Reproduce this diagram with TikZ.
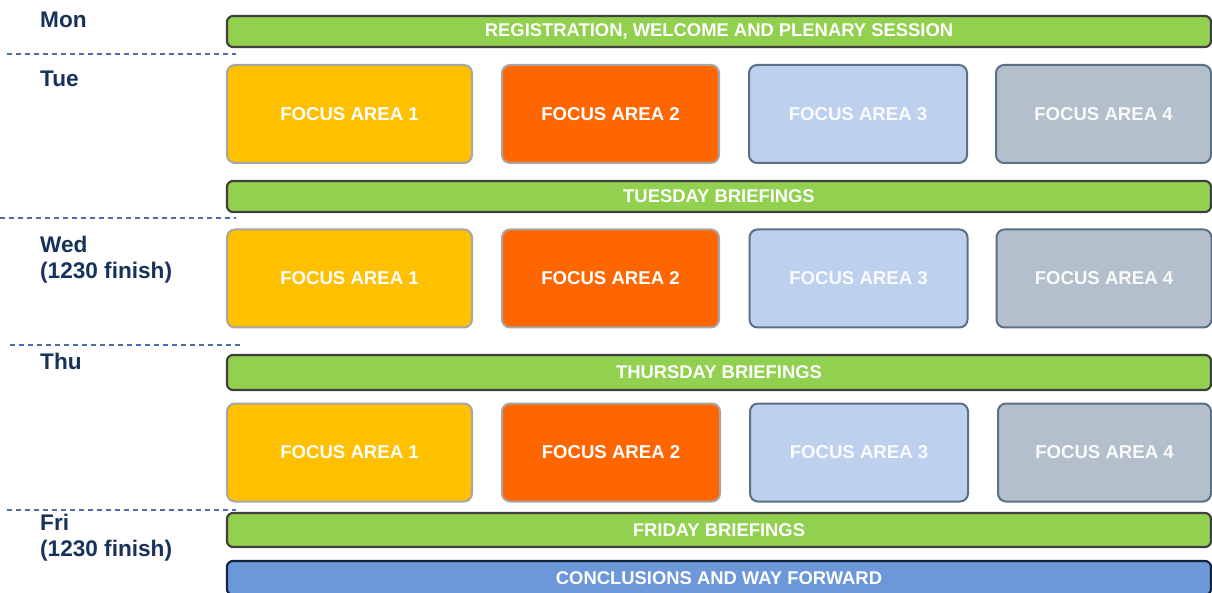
\documentclass[tikz,border=0pt]{standalone}
\usepackage{fontspec}
\setmainfont{Liberation Sans}
\usepackage{tikz}

\definecolor{daytext}{HTML}{17325A}
\definecolor{sepline}{HTML}{4A6DAE}
\definecolor{barfill}{HTML}{92D050}
\definecolor{barline}{HTML}{3F3F3F}
\definecolor{fafill}{HTML}{FFC000}
\definecolor{fbfill}{HTML}{FF6600}
\definecolor{fcfill}{HTML}{BDD0EE}
\definecolor{fdfill}{HTML}{B3BFCA}
\definecolor{warmline}{HTML}{A6A6A6}
\definecolor{coolline}{HTML}{5B7086}
\definecolor{endfill}{HTML}{6C98DA}
\definecolor{endline}{HTML}{13233A}

\begin{document}
\begin{tikzpicture}[
  x=1pt, y=-1pt,
  day/.style={anchor=base west, align=left, inner sep=0pt, text=daytext, font=\fontsize{22.6}{26}\selectfont\bfseries},
  sep/.style={draw=sepline, dashed, dash pattern=on 5pt off 4pt, line width=1.3pt},
  bar/.style={draw=barline, fill=barfill, line width=2.2pt, rounded corners=6pt, minimum width=984pt, text=white, font=\fontsize{18.4}{20}\selectfont\bfseries, inner sep=0pt},
  area/.style={rounded corners=8pt, line width=2pt, minimum height=98pt, text=white, font=\fontsize{18.6}{20}\selectfont\bfseries, inner sep=0pt},
  fa/.style={area, draw=warmline, fill=fafill, minimum width=245pt},
  fb/.style={area, draw=warmline, fill=fbfill, minimum width=217pt},
  fc/.style={area, draw=coolline, fill=fcfill, minimum width=218pt, text=white!92!fcfill},
  fd/.style={area, draw=coolline, fill=fdfill, minimum width=215pt, text=white!92!fdfill}
]
\useasboundingbox (0,0) rectangle (1212,593);
\clip (0,0) rectangle (1212,593);

% day labels (two-line ones sit on their last baseline)
\node[day] (mon) at (40,28) {Mon};
\node[day] (tue) at (40,87) {Tue};
\node[day] (wed) at (40,279) {Wed\\(1230 finish)};
\node[day] (thu) at (40,370) {Thu};
\node[day] (fri) at (40,556) {Fri\\(1230 finish)};

% separators between days
\draw[sep] (7,54) -- (236,54);
\draw[sep] (0,218) -- (236,218);
\draw[sep] (10,345) -- (240,345);
\draw[sep] (7,510) -- (236,510);

% plenary and briefing bars
\node[bar, minimum height=31pt] (plenary) at (719,31.5) {REGISTRATION, WELCOME AND PLENARY SESSION};
\node[bar, minimum height=31pt] (tuebrief) at (719,196.5) {TUESDAY BRIEFINGS};
\node[bar, minimum height=35pt] (thubrief) at (719,372.5) {THURSDAY BRIEFINGS};
\node[bar, minimum height=34pt] (fribrief) at (719,530) {FRIDAY BRIEFINGS};
\node[bar, draw=endline, fill=endfill, minimum height=34pt] (close) at (719,578) {CONCLUSIONS AND WAY FORWARD};

% focus areas, tuesday
\node[fa] (tueA) at (349.5,114) {FOCUS AREA 1};
\node[fb] (tueB) at (610.5,114) {FOCUS AREA 2};
\node[fc] (tueC) at (858,114) {FOCUS AREA 3};
\node[fd] (tueD) at (1103.5,114) {FOCUS AREA 4};

% focus areas, wednesday
\node[fa] (wedA) at (349.5,278.5) {FOCUS AREA 1};
\node[fb] (wedB) at (610.5,278.5) {FOCUS AREA 2};
\node[fc] (wedC) at (858.5,278.5) {FOCUS AREA 3};
\node[fd] (wedD) at (1104,278.5) {FOCUS AREA 4};

% focus areas, thursday
\node[fa] (thuA) at (349.5,452.5) {FOCUS AREA 1};
\node[fb, minimum width=218pt] (thuB) at (611,452.5) {FOCUS AREA 2};
\node[fc] (thuC) at (859,452.5) {FOCUS AREA 3};
\node[fd, minimum width=213pt] (thuD) at (1104.5,452.5) {FOCUS AREA 4};
\end{tikzpicture}
\end{document}
